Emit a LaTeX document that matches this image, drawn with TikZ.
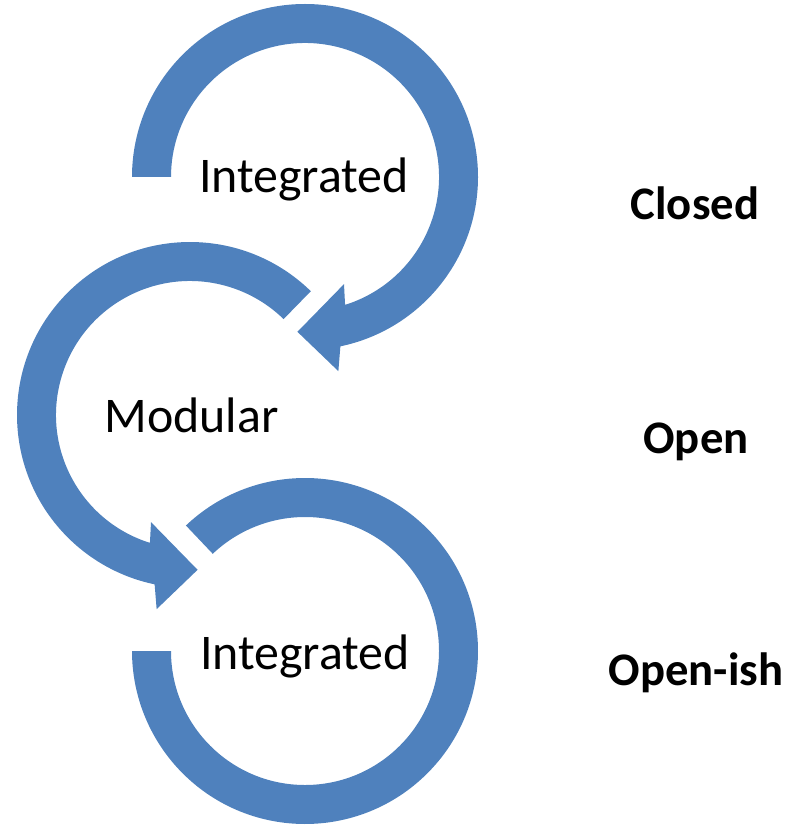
\documentclass[tikz,border=0pt]{standalone}
\usepackage{fontspec}
\setmainfont{Carlito}
\definecolor{ringblue}{HTML}{4F81BD}
\tikzset{
  ring/.style={fill=ringblue, draw=none},
  inlabel/.style={anchor=base, inner sep=0, font=\fontsize{35.5}{42}\selectfont},
  sidelabel/.style={anchor=base, inner sep=0, font=\fontsize{33.2}{39}\selectfont\bfseries}
}
\begin{document}
\begin{tikzpicture}

\useasboundingbox (0,0) rectangle (19.75,-20.65);

\def\ro{4.325}
\def\ri{3.35}

\coordinate (T) at (7.625,-4.425);
\coordinate (M) at (4.75,-10.375);
\coordinate (B) at (7.625,-16.275);

% top ring, clockwise
\fill[ring] (T) ++(180:\ro) arc[start angle=180, end angle=-78.2, radius=\ro]
  -- ([shift={(-80.25:4.925)}]T) -- ([shift={(-92.8:3.875)}]T)
  -- ([shift={(-70:2.85)}]T) -- ([shift={(-72.6:\ri)}]T)
  arc[start angle=-72.6, end angle=180, radius=\ri] -- cycle;

% middle ring, counter-clockwise
\fill[ring] (M) ++(45.7:\ro) arc[start angle=45.7, end angle=258.2, radius=\ro]
  -- ([shift={(260.25:4.925)}]M) -- ([shift={(272.8:3.875)}]M)
  -- ([shift={(250:2.85)}]M) -- ([shift={(252.6:\ri)}]M)
  arc[start angle=252.6, end angle=45.7, radius=\ri] -- cycle;

% bottom ring, no head
\fill[ring] (B) ++(133.5:\ro) arc[start angle=133.5, end angle=-180, radius=\ro]
  -- ([shift={(180:\ri)}]B)
  arc[start angle=-180, end angle=133.5, radius=\ri] -- cycle;

\node[inlabel] (int1) at (7.6,-4.825) {Integrated};
\node[inlabel] (mod) at (4.7875,-10.8) {Modular};
\node[inlabel] (int2) at (7.625,-16.725) {Integrated};

\node[sidelabel] (closed) at (17.375,-5.5) {Closed};
\node[sidelabel] (open) at (17.4,-11.325) {Open};
\node[sidelabel] (openish) at (17.4,-17.125) {Open-ish};

\end{tikzpicture}
\end{document}
